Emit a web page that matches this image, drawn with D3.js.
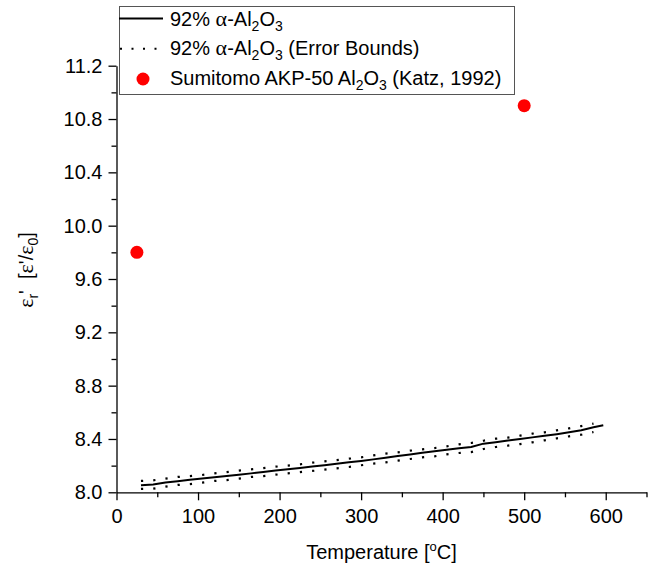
<!DOCTYPE html>
<html>
<head>
<meta charset="utf-8">
<script src="https://cdn.jsdelivr.net/npm/d3@7"></script>
<style>
  body { margin: 0; background: #fff; }
  svg text { font-family: "Liberation Sans", Arial, sans-serif; fill: #000; }
  .greek { font-family: "Liberation Serif", "Times New Roman", serif; }
  .axis path, .axis line { stroke: #000; stroke-width: 1.3; }
</style>
</head>
<body>
<div id="chart"></div>
<script>
// temperature (degC) of the 92% alpha-Al2O3 measurement
var temps = [30, 45, 60, 75, 90, 105, 120, 135, 150, 165, 180, 195, 210, 225, 240, 255, 270, 285,
  300, 315, 330, 345, 360, 375, 390, 405, 420, 435, 450, 465, 480, 495, 510, 525, 540, 555, 570, 585, 597];
// measured permittivity
var epsMean = [8.053, 8.058, 8.074, 8.083, 8.094, 8.103, 8.113, 8.122, 8.132, 8.142, 8.153, 8.164,
  8.173, 8.183, 8.193, 8.203, 8.214, 8.225, 8.235, 8.247, 8.260, 8.272, 8.284, 8.297, 8.308, 8.320,
  8.330, 8.340, 8.365, 8.376, 8.388, 8.400, 8.412, 8.424, 8.436, 8.450, 8.466, 8.488, 8.503];
// error bounds (same temperatures, without the last point)
var epsUpper = [8.085, 8.090, 8.102, 8.115, 8.122, 8.130, 8.142, 8.152, 8.162, 8.172, 8.182, 8.192,
  8.200, 8.210, 8.222, 8.232, 8.242, 8.252, 8.262, 8.277, 8.290, 8.300, 8.312, 8.322, 8.332, 8.345,
  8.360, 8.370, 8.387, 8.402, 8.410, 8.425, 8.440, 8.450, 8.465, 8.480, 8.497, 8.515];
var epsLower = [8.025, 8.027, 8.042, 8.055, 8.062, 8.072, 8.085, 8.092, 8.102, 8.115, 8.122, 8.132,
  8.142, 8.152, 8.160, 8.170, 8.180, 8.190, 8.203, 8.215, 8.225, 8.237, 8.250, 8.262, 8.270, 8.285,
  8.295, 8.302, 8.325, 8.340, 8.350, 8.362, 8.375, 8.390, 8.405, 8.420, 8.432, 8.452];
// Katz, 1992 literature values
var katzTemps = [25, 500];
var katzEps = [9.8, 10.9];

var xMajor = [0, 100, 200, 300, 400, 500, 600];
var xMinor = [50, 150, 250, 350, 450, 550, 650];
var yMajor = [8.0, 8.4, 8.8, 9.2, 9.6, 10.0, 10.4, 10.8, 11.2];
var yMinor = [8.2, 8.6, 9.0, 9.4, 9.8, 10.2, 10.6, 11.0];

var width = 653, height = 570;
var fs = "20px", subFs = "14px";
var svg = d3.select("#chart").append("svg")
  .attr("width", width)
  .attr("height", height);

var x = d3.scaleLinear().domain([0, 650]).range([116.5, 646.5]);
var y = d3.scaleLinear().domain([8.0, 11.2]).range([492.3, 65.7]);

var bottom = y.range()[0], left = x.range()[0];

// axes - major ticks with labels, minor ticks without
svg.append("g").attr("class", "axis")
  .attr("transform", "translate(0," + bottom + ")")
  .call(d3.axisBottom(x).tickValues(xMajor).tickSize(8).tickSizeOuter(0).tickPadding(9).tickFormat(d3.format("d")));
svg.append("g").attr("class", "axis")
  .attr("transform", "translate(0," + bottom + ")")
  .call(d3.axisBottom(x).tickValues(xMinor).tickSize(5).tickFormat(""))
  .select(".domain").remove();

svg.append("g").attr("class", "axis")
  .attr("transform", "translate(" + left + ",0)")
  .call(d3.axisLeft(y).tickValues(yMajor).tickSize(8).tickSizeOuter(0).tickPadding(6).tickFormat(d3.format(".1f")));
svg.append("g").attr("class", "axis")
  .attr("transform", "translate(" + left + ",0)")
  .call(d3.axisLeft(y).tickValues(yMinor).tickSize(5).tickFormat(""))
  .select(".domain").remove();

svg.selectAll(".axis text").style("font-size", fs).style("font-family", "Liberation Sans, Arial, sans-serif");

// axis titles
var xt = svg.append("text")
  .attr("x", (x.range()[0] + x.range()[1]) / 2)
  .attr("y", 559)
  .attr("text-anchor", "middle")
  .style("font-size", fs);
xt.append("tspan").text("Temperature [");
xt.append("tspan").text("o").style("font-size", "13px").attr("dy", -8);
xt.append("tspan").text("C]").attr("dy", 8);

var yt = svg.append("text")
  .attr("transform", "translate(33,270) rotate(-90)")
  .attr("text-anchor", "middle")
  .style("font-size", fs);
yt.append("tspan").attr("class", "greek").text("ε").style("font-size", "22px");
yt.append("tspan").text("r").style("font-size", subFs).attr("dy", 5);
yt.append("tspan").text("'").attr("dy", -5);
yt.append("tspan").text("  [").attr("xml:space", "preserve");
yt.append("tspan").attr("class", "greek").text("ε").style("font-size", "22px");
yt.append("tspan").text("'/");
yt.append("tspan").attr("class", "greek").text("ε").style("font-size", "22px");
yt.append("tspan").text("0").style("font-size", subFs).attr("dy", 5);
yt.append("tspan").text("]").attr("dy", -5);

// data
var meanData = temps.map(function(t, i) { return {t: t, v: epsMean[i]}; });
var upperData = epsUpper.map(function(v, i) { return {t: temps[i], v: v}; });
var lowerData = epsLower.map(function(v, i) { return {t: temps[i], v: v}; });

var lineGen = d3.line()
  .x(function(d) { return x(d.t); })
  .y(function(d) { return y(d.v); });

[upperData, lowerData].forEach(function(data) {
  svg.append("path")
    .datum(data)
    .attr("d", lineGen)
    .attr("fill", "none")
    .attr("stroke", "#000")
    .attr("stroke-width", 2.2)
    .attr("stroke-dasharray", "2.2,10.1");
});

svg.append("path")
  .datum(meanData)
  .attr("d", lineGen)
  .attr("fill", "none")
  .attr("stroke", "#000")
  .attr("stroke-width", 2);

svg.selectAll(".katz")
  .data(katzTemps)
  .enter().append("circle")
  .attr("class", "katz")
  .attr("cx", function(d) { return x(d); })
  .attr("cy", function(d, i) { return y(katzEps[i]); })
  .attr("r", 6.5)
  .attr("fill", "#ff0000");

// legend
var lg = svg.append("g");
lg.append("rect")
  .attr("x", 119.5).attr("y", 6.5)
  .attr("width", 395).attr("height", 88)
  .attr("fill", "#fff")
  .attr("stroke", "#555")
  .attr("stroke-width", 1);

lg.append("line").attr("x1", 119).attr("x2", 163).attr("y1", 18.5).attr("y2", 18.5)
  .attr("stroke", "#000").attr("stroke-width", 2);
lg.append("line").attr("x1", 120).attr("x2", 163).attr("y1", 48.7).attr("y2", 48.7)
  .attr("stroke", "#000").attr("stroke-width", 2).attr("stroke-dasharray", "2,9.5");
lg.append("circle").attr("cx", 143).attr("cy", 79).attr("r", 6.5).attr("fill", "#ff0000");

function alumina(t) {
  t.append("tspan").attr("class", "greek").text("α").style("font-size", "22px");
  t.append("tspan").text("-Al");
  t.append("tspan").text("2").style("font-size", subFs).attr("dy", 5);
  t.append("tspan").text("O").attr("dy", -5);
  t.append("tspan").text("3").style("font-size", subFs).attr("dy", 5);
}

var t1 = lg.append("text").attr("x", 170).attr("y", 26).style("font-size", fs);
t1.append("tspan").text("92% ");
alumina(t1);

var t2 = lg.append("text").attr("x", 170).attr("y", 55.3).style("font-size", fs);
t2.append("tspan").text("92% ");
alumina(t2);
t2.append("tspan").text(" (Error Bounds)").attr("dy", -5);

var t3 = lg.append("text").attr("x", 170).attr("y", 85).style("font-size", fs);
t3.append("tspan").text("Sumitomo AKP-50 Al");
t3.append("tspan").text("2").style("font-size", subFs).attr("dy", 5);
t3.append("tspan").text("O").attr("dy", -5);
t3.append("tspan").text("3").style("font-size", subFs).attr("dy", 5);
t3.append("tspan").text(" (Katz, 1992)").attr("dy", -5);
</script>
</body>
</html>
